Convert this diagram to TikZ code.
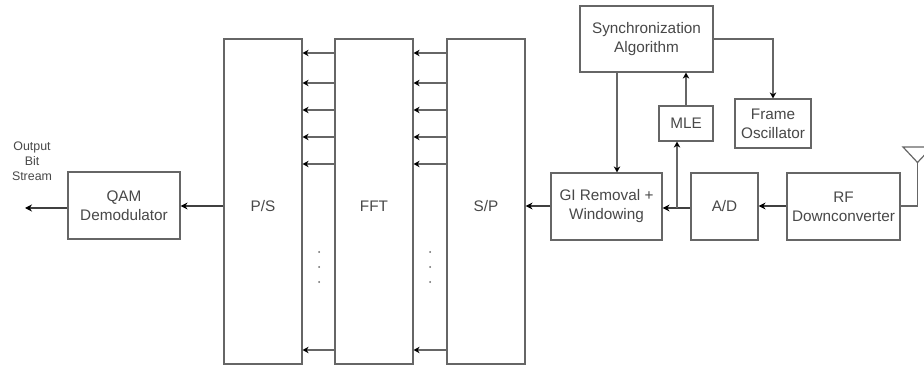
\documentclass[tikz,border=0pt]{standalone}
\usepackage{fontspec}
\setmainfont{Liberation Sans}
\usetikzlibrary{arrows.meta, calc}
\definecolor{wire}{HTML}{666666}
\definecolor{ink}{HTML}{484848}

\begin{document}
\begin{tikzpicture}[x=1pt, y=-1pt,
                            block/.style={rectangle, draw=wire, line width=1.2pt, fill=white, inner sep=0pt, text=ink, align=center, font=\fontsize{15.3}{19}\selectfont},
                            caption/.style={inner sep=0pt, text=ink, align=center, font=\fontsize{15.3}{19}\selectfont},
                            small_text/.style={inner sep=0pt, text=ink, align=center, font=\fontsize{12.4}{15}\selectfont},
                            tick/.style={circle, fill=wire, inner sep=0pt, minimum size=2pt},
                            link/.style={-{Stealth[length=6pt, width=6.5pt, black]}, line width=1.2pt, draw=wire},
                            out_link/.style={-{Stealth[length=7pt, width=7pt, black]}, line width=1.2pt, draw=black!75},
                            plain_link/.style={line width=1.2pt, draw=wire}]

            \useasboundingbox (0,0) rectangle (924,366);

            \node[block, minimum width=112, minimum height=67] (qam) at (124,205.5) {QAM\\Demodulator};
            \node[block, minimum width=78, minimum height=325] (ps) at (263,201.5) {};
            \node[block, minimum width=78, minimum height=325] (fft) at (374,201.5) {};
            \node[block, minimum width=78, minimum height=325] (sp) at (486,201.5) {};
            \node[block, minimum width=111, minimum height=67] (gi) at (606.5,206.5) {GI Removal +\\Windowing};
            \node[block, minimum width=67, minimum height=67] (ad) at (724.5,206.5) {A/D};
            \node[block, minimum width=113, minimum height=67] (rf) at (843.5,206.5) {RF\\Downconverter};
            \node[block, minimum width=133, minimum height=66] (sync) at (646.5,39) {Synchronization\\Algorithm};
            \node[block, minimum width=54, minimum height=35] (mle) at (686,123.5) {MLE};
            \node[block, minimum width=76, minimum height=49] (osc) at (773,123.5) {Frame\\Oscillator};

            \node[caption] (pstext) at (263,206) {P/S};
            \node[caption] (ffttext) at (374,206) {FFT};
            \node[caption] (sptext) at (486,206) {S/P};
            \node[small_text] (outtext) at (32,161) {Output\\Bit\\Stream};

            % rows between the tall blocks
            \coordinate (r1) at (0,53);
            \coordinate (r2) at (0,83);
            \coordinate (r3) at (0,110);
            \coordinate (r4) at (0,137);
            \coordinate (r5) at (0,164);
            \coordinate (r6) at (0,350);

            \draw[link] (sp.west |- r1) to (fft.east |- r1);
            \draw[link] (sp.west |- r2) to (fft.east |- r2);
            \draw[link] (sp.west |- r3) to (fft.east |- r3);
            \draw[link] (sp.west |- r4) to (fft.east |- r4);
            \draw[link] (sp.west |- r5) to (fft.east |- r5);
            \draw[link] (sp.west |- r6) to (fft.east |- r6);

            \draw[link] (fft.west |- r1) to (ps.east |- r1);
            \draw[link] (fft.west |- r2) to (ps.east |- r2);
            \draw[link] (fft.west |- r3) to (ps.east |- r3);
            \draw[link] (fft.west |- r4) to (ps.east |- r4);
            \draw[link] (fft.west |- r5) to (ps.east |- r5);
            \draw[link] (fft.west |- r6) to (ps.east |- r6);

            \node[tick] (d1) at (319,252) {};
            \node[tick] (d2) at (319,267) {};
            \node[tick] (d3) at (319,282) {};
            \node[tick] (d4) at (430,252) {};
            \node[tick] (d5) at (430,267) {};
            \node[tick] (d6) at (430,282) {};

            % main signal path
            \coordinate (out) at (25,208);
            \coordinate (mid) at (0,206);
            \coordinate (tap) at (677,208);
            \draw[out_link] (qam.west |- out) to (out);
            \draw[out_link] (ps.west |- mid) to (qam.east |- mid);
            \draw[out_link] (gi.west |- mid) to (sp.east |- mid);
            \draw[out_link] (ad.west |- tap) to (gi.east |- tap);
            \draw[out_link] (rf.west |- mid) to (ad.east |- mid);

            % synchronization branch
            \draw[link] (tap) to (tap |- mle.south);
            \draw[link] (mle.north) to (mle.north |- sync.south);
            \coordinate (syncdown) at (617,72);
            \draw[link] (syncdown) to (syncdown |- gi.north);
            \draw[link] (sync.east) -| (osc.north);

            % antenna
            \coordinate (antl) at (903,147);
            \coordinate (antr) at (932,147);
            \coordinate (antb) at (917.5,162.5);
            \draw[plain_link] (antl) -- (antr) -- (antb) -- cycle;
            \draw[plain_link] (antb) |- (rf.east |- mid);
\end{tikzpicture}
\end{document}
